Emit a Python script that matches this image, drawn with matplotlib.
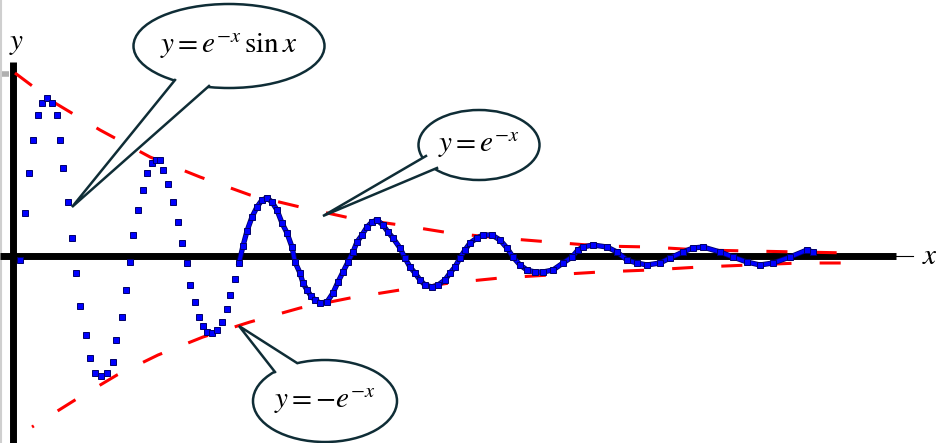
import matplotlib
matplotlib.use("Agg")
import matplotlib.pyplot as plt
import matplotlib.patheffects as pe
from matplotlib.patches import Ellipse, Polygon

plt.rcParams['mathtext.fontset'] = 'stix'

# sampled points of the damped wave (blue dots)
wave_x = [0.35, 0.60, 0.80, 1.00, 1.25, 1.45, 1.70, 1.95, 2.20, 2.35, 2.50, 2.75, 2.95,
          3.15, 3.35, 3.65, 3.85, 4.10, 4.40, 4.70, 5.00, 5.15, 5.45, 5.65, 5.85, 6.00,
          6.25, 6.50, 6.70, 6.95, 7.15, 7.35, 7.50, 7.75, 8.00, 8.25, 8.45, 8.70, 8.85,
          9.10, 9.30, 9.50, 9.70, 9.95, 10.20, 10.45, 10.70, 10.85, 11.10, 11.30, 11.50,
          11.70, 11.95, 12.20, 12.45, 12.70, 12.95, 13.20, 13.45, 13.70, 13.95, 14.10,
          14.35, 14.50, 14.70, 14.90, 15.10, 15.35, 15.70, 16.00, 16.25, 16.50, 16.75,
          17.00, 17.20, 17.45, 17.70, 17.95, 18.20, 18.50, 18.75, 19.00, 19.35, 19.60,
          19.85, 20.10, 20.35, 20.60, 20.95, 21.25, 21.60, 21.85, 22.10, 22.35, 22.60,
          22.85, 23.20, 23.50, 23.95, 24.35, 24.70, 25.00, 25.35, 25.70, 26.10, 26.50,
          27.00, 27.50, 27.95, 28.25, 28.50, 29.00, 29.70, 30.20, 30.70, 31.20, 31.70,
          32.35, 32.85, 33.50, 34.00, 34.50, 35.35, 36.00, 36.70, 37.35, 38.00, 38.85,
          39.70, 40.00]
wave_y = [-0.04, 0.43, 0.83, 1.16, 1.41, 1.53, 1.58, 1.53, 1.41, 1.16, 0.88, 0.54, 0.18,
          -0.17, -0.50, -0.79, -1.02, -1.17, -1.20, -1.17, -1.06, -0.84, -0.61, -0.34,
          -0.06, 0.21, 0.46, 0.66, 0.83, 0.93, 0.96, 0.96, 0.86, 0.72, 0.54, 0.34, 0.13,
          -0.07, -0.29, -0.46, -0.61, -0.70, -0.76, -0.77, -0.74, -0.66, -0.53, -0.39,
          -0.23, -0.07, 0.10, 0.25, 0.39, 0.49, 0.56, 0.58, 0.54, 0.46, 0.33, 0.23, 0.09,
          -0.06, -0.17, -0.27, -0.34, -0.40, -0.44, -0.47, -0.46, -0.37, -0.26, -0.16,
          -0.06, 0.04, 0.14, 0.21, 0.29, 0.34, 0.36, 0.31, 0.24, 0.18, 0.08, -0.02, -0.11,
          -0.17, -0.24, -0.29, -0.31, -0.29, -0.24, -0.17, -0.11, -0.02, 0.06, 0.13, 0.18,
          0.21, 0.21, 0.16, 0.08, -0.01, -0.09, -0.14, -0.16, -0.16, -0.14, -0.07, -0.01,
          0.06, 0.09, 0.11, 0.09, 0.04, -0.04, -0.07, -0.09, -0.07, -0.02, 0.04, 0.08,
          0.09, 0.04, -0.01, -0.06, -0.09, -0.07, -0.01, 0.06, 0.04]
# from here on the dots run together into a solid chain
chain_from = 11.3

# envelopes (red dashed)
upper_x = [0.10, 2.10, 4.35, 6.85, 9.35, 11.85, 14.35, 16.85, 19.35, 21.85, 24.35,
           26.85, 29.35, 31.85, 34.35, 36.85, 39.35, 41.85]
upper_y = [1.83, 1.53, 1.26, 0.99, 0.79, 0.61, 0.49, 0.38, 0.31, 0.23, 0.18, 0.14,
           0.10, 0.09, 0.06, 0.05, 0.04, 0.03]
lower_x = [0.95, 3.10, 5.20, 7.25, 9.50, 11.85, 14.35, 16.85, 19.35, 21.85, 24.35,
           26.85, 29.35, 31.85, 34.35, 36.85, 39.35, 41.85]
lower_y = [-1.71, -1.44, -1.19, -0.99, -0.81, -0.66, -0.52, -0.42, -0.34, -0.27, -0.22,
           -0.19, -0.16, -0.14, -0.11, -0.09, -0.07, -0.07]

# callouts: text, ellipse centre, width, height, tail base 1, tail base 2, tip
callouts = [
    (r'$y=e^{-x}\,\sin x$', (10.8, 2.10), 9.55, 0.84, (8.1, 1.76), (9.8, 1.70), (2.95, 0.49)),
    (r'$y=e^{-x}$', (23.3, 1.11), 6.05, 0.70, (20.65, 1.00), (21.2, 0.88), (15.5, 0.40)),
    (r'$y=-e^{-x}$', (15.6, -1.45), 7.2, 0.82, (13.1, -1.16), (14.2, -1.07), (11.3, -0.70)),
]
edge = '#0f2d36'

fig = plt.figure(figsize=(9.5, 4.43), dpi=100)
ax = fig.add_axes([0, 0, 1, 1])
ax.set_xlim(-0.65, 46.85)
ax.set_ylim(-1.87, 2.56)
ax.axis('off')

# axes drawn by hand, thick black
ax.plot([-0.65, 44.15], [0, 0], color='black', lw=5, solid_capstyle='butt', zorder=3)
ax.plot([44.15, 45.0], [0, 0], color='black', lw=0.8, zorder=3)
ax.plot([0, 0], [-1.87, 1.94], color='black', lw=5, solid_capstyle='butt', zorder=3)
ax.plot([-0.6, -0.6], [-1.87, 2.56], color='#cfcfcf', lw=1.5, zorder=1)
ax.plot([-0.55, -0.2], [1.82, 1.82], color='#b0b0b0', lw=4, solid_capstyle='butt', zorder=1)
ax.text(45.85, 0.0, '$x$', fontsize=21, ha='center', va='center')
ax.text(0.2, 2.13, '$y$', fontsize=21, ha='center', va='center')

ax.plot(upper_x, upper_y, color='red', lw=2.2, linestyle=(0, (6.9, 9.2)), zorder=4)
ax.plot(lower_x, lower_y, color='red', lw=2.2, linestyle=(6.2, (6.9, 9.2)), zorder=4)

cx = [x for x in wave_x if x >= chain_from]
cy = [y for x, y in zip(wave_x, wave_y) if x >= chain_from]
ax.plot(cx, cy, color='#0000ff', lw=2.6, solid_joinstyle='round', zorder=5,
        path_effects=[pe.Stroke(linewidth=3.8, foreground='#00006a'), pe.Normal()])
ax.plot(wave_x, wave_y, linestyle='none', marker='s', markersize=3.8,
        color='#0000ff', markeredgecolor='#00006a', markeredgewidth=0.7, zorder=5)

for txt, c, w, h, b1, b2, tip in callouts:
    ax.add_patch(Ellipse(c, w, h, facecolor='white', edgecolor=edge, lw=1.8, zorder=6))
    ax.add_patch(Polygon([b1, tip, b2, c], closed=True, facecolor='white',
                         edgecolor='none', zorder=7))
    ax.plot([b1[0], tip[0], b2[0]], [b1[1], tip[1], b2[1]], color=edge, lw=1.8,
            solid_joinstyle='miter', zorder=8)
    ax.text(c[0], c[1], txt, fontsize=21, ha='center', va='center', zorder=9)

fig.savefig('out.png', dpi=100)
